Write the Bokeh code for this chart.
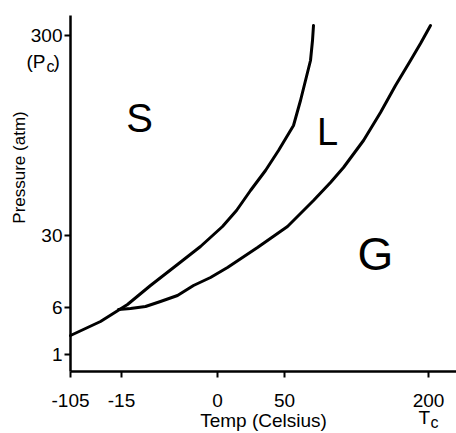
from math import pi
from bokeh.plotting import figure
from bokeh.models import FixedTicker, Label, Range1d
from bokeh.embed import file_html
from bokeh.resources import INLINE

# Schematic phase diagram: axes are in "schematic position" units, ticks labelled with real values
x_tick_pos = [0, 51, 147, 214, 358]
x_tick_labels = ["-105", "-15", "0", "50", "200"]
y_tick_pos = [17, 64, 136, 336]
y_tick_labels = ["1", "6", "30", "300"]

# solid boundary (sublimation + melting)
curve_a_x = [0, 30, 57, 80, 107, 130, 152, 166, 180, 195, 208, 223, 230, 235, 240, 242, 243]
curve_a_y = [36, 50, 67, 86, 107, 125, 145, 161, 181, 201, 221, 246, 271, 291, 311, 331, 346]
# liquid / gas boundary (vaporisation)
curve_b_x = [48, 60, 75, 90, 107, 123, 140, 157, 187, 217, 243, 260, 273, 293, 310, 325, 340, 350, 360]
curve_b_y = [62, 63, 65, 70, 76, 86, 94, 104, 124, 145, 171, 189, 204, 231, 259, 286, 311, 328, 346]

region_names = ["S", "L", "G"]
region_x = [69, 257, 305]
region_y = [254, 240, 118]
region_sizes = ["40px", "38px", "46px"]

FONT = "Liberation Sans"

p = figure(width=456, height=433, output_backend="svg", toolbar_location=None,
           x_range=Range1d(-70, 386), y_range=Range1d(-62, 371),
           min_border=0, min_border_left=0, min_border_right=0,
           min_border_top=0, min_border_bottom=0)
p.outline_line_color = None
p.grid.visible = False
p.background_fill_color = "white"
p.border_fill_color = "white"

for ax in (p.xaxis[0], p.yaxis[0]):
    ax.fixed_location = 0
    ax.axis_line_width = 2.5
    ax.axis_line_color = "black"
    ax.major_tick_line_width = 2
    ax.major_tick_line_color = "black"
    ax.major_tick_out = 6
    ax.major_tick_in = 0
    ax.minor_tick_line_color = None
    ax.major_label_text_font = FONT
    ax.major_label_text_font_size = "19px"
    ax.major_label_text_color = "black"

p.xaxis.bounds = (0, 386)
p.yaxis.bounds = (0, 356)
p.xaxis.ticker = FixedTicker(ticks=x_tick_pos)
p.xaxis.major_label_overrides = dict(zip(x_tick_pos, x_tick_labels))
p.yaxis.ticker = FixedTicker(ticks=y_tick_pos)
p.yaxis.major_label_overrides = dict(zip(y_tick_pos, y_tick_labels))
p.yaxis.major_label_standoff = 2
p.xaxis.major_label_standoff = 16

p.xaxis.axis_label = "Temp (Celsius)"
p.xaxis.axis_label_text_font = FONT
p.xaxis.axis_label_text_font_size = "19px"
p.xaxis.axis_label_text_font_style = "normal"
p.xaxis.axis_label_text_color = "black"
p.xaxis.axis_label_standoff = 0

p.line(curve_a_x, curve_a_y, line_width=3, line_color="black", line_join="round", line_cap="round")
p.line(curve_b_x, curve_b_y, line_width=3, line_color="black", line_join="round", line_cap="round")

for name, x, y, s in zip(region_names, region_x, region_y, region_sizes):
    p.add_layout(Label(x=x, y=y, text=name, text_align="center", text_baseline="middle",
                       text_font=FONT, text_font_size=s, text_color="black"))

# y axis title
p.add_layout(Label(x=-51.5, y=204, text="Pressure (atm)", angle=pi / 2, text_align="center",
                   text_baseline="middle", text_font=FONT, text_font_size="17px", text_color="black"))
# (P_c) under 300
p.add_layout(Label(x=-44, y=310, text="(P", text_baseline="alphabetic", text_font=FONT,
                   text_font_size="19px", text_color="black"))
p.add_layout(Label(x=-24, y=305, text="c", text_baseline="alphabetic", text_font=FONT,
                   text_font_size="16px", text_color="black"))
p.add_layout(Label(x=-17, y=310, text=")", text_baseline="alphabetic", text_font=FONT,
                   text_font_size="19px", text_color="black"))
# T_c under 200
p.add_layout(Label(x=348, y=-46, text="T", text_baseline="alphabetic", text_font=FONT,
                   text_font_size="19px", text_color="black"))
p.add_layout(Label(x=360, y=-51, text="c", text_baseline="alphabetic", text_font=FONT,
                   text_font_size="16px", text_color="black"))

open("out.html", "w").write(file_html(p, INLINE))
